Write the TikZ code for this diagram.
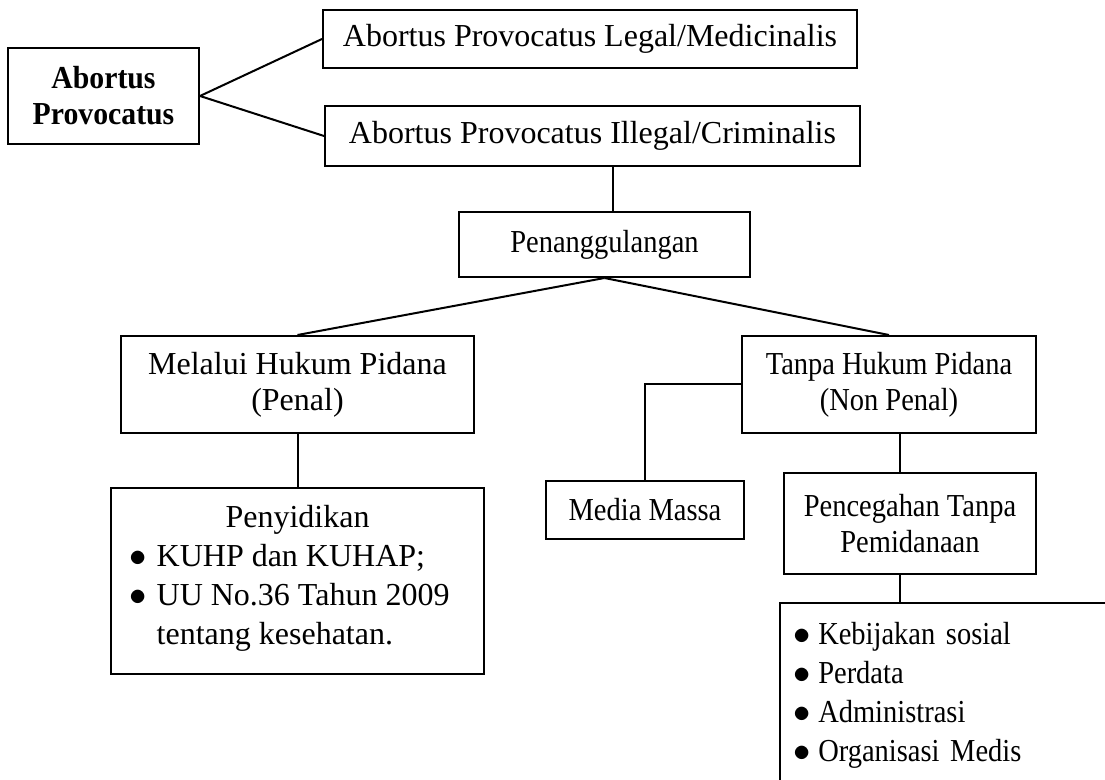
\documentclass[tikz,border=0pt]{standalone}
\usepackage{fontspec}
\setmainfont{Liberation Serif}
\newfontfamily\sempit[FakeStretch=0.89]{Liberation Serif}
\newfontfamily\judul[FakeStretch=0.93]{Liberation Serif}
\usepackage{tikz}
\usetikzlibrary{positioning}

\begin{document}
\begin{tikzpicture}[x=0.5pt,y=-0.5pt,line width=1pt,
    box/.style={rectangle,draw,inner sep=2pt,align=center,font=\fontsize{16}{18}\selectfont},
    smallbox/.style={box,font=\sempit\fontsize{16}{18}\selectfont}] % one pixel of the page is half a point
                \useasboundingbox (0,0) rectangle (1105,780);
                \clip (0,0) rectangle (1105,780);
                % Define the boxes at the places they have on the page
                \node[box,minimum width=95.5pt,minimum height=48pt,font=\judul\fontsize{16}{18}\selectfont\bfseries] (ap) at (103.5,96) {Abortus\\Provocatus};
                \node[box,minimum width=267pt,minimum height=29pt] (legal) at (590,39) {Abortus Provocatus Legal/Medicinalis};
                \node[box,minimum width=267.5pt,minimum height=30pt] (illegal) at (592.5,136) {Abortus Provocatus Illegal/Criminalis};
                \node[smallbox,minimum width=145.5pt,minimum height=32.5pt] (pen) at (604.5,244.5) {Penanggulangan};
                \node[box,minimum width=176.5pt,minimum height=48.5pt] (penal) at (297.5,384.5) {Melalui Hukum Pidana\\(Penal)};
                \node[smallbox,minimum width=147pt,minimum height=48.5pt] (nonpenal) at (889,384.5) {Tanpa Hukum Pidana\\(Non Penal)};
                \node[box,minimum width=186.5pt,minimum height=93pt,font=\fontsize{16}{19.5}\selectfont] (sidik) at (297.5,581) {Penyidikan\\
                    \hspace*{-8pt}\begin{tabular}[t]{@{}l@{\hspace{5pt}}l@{}}
                        $\bullet$ & KUHP dan KUHAP;\\
                        $\bullet$ & UU No.36 Tahun 2009\\
                                  & tentang kesehatan.
                    \end{tabular}};
                \node[smallbox,minimum width=99pt,minimum height=29pt] (media) at (645,510) {Media Massa};
                \node[smallbox,minimum width=126pt,minimum height=50.5pt] (cegah) at (910,523.5) {Pencegahan Tanpa\\Pemidanaan};
                \node[smallbox,anchor=north west,align=left,text width=163pt,inner xsep=6.5pt,inner ysep=7pt,font=\sempit\fontsize{16}{19.5}\selectfont] (daftar) at (779,602) {%
                    \begin{tabular}{@{}l@{\hspace{4pt}}l@{}}
                        $\bullet$ & Kebijakan sosial\\
                        $\bullet$ & Perdata\\
                        $\bullet$ & Administrasi\\
                        $\bullet$ & Organisasi Medis\\[12pt]
                    \end{tabular}};
                % Connect the boxes
                \draw (ap.east) -- (legal.west);
                \draw (ap.east) -- (illegal.west);
                \draw ([xshift=4pt]pen.north) -- ([xshift=4pt]pen.north |- illegal.south);
                \draw (pen.south) -- (penal.north);
                \draw (pen.south) -- (nonpenal.north);
                \draw (penal.south) -- (sidik.north);
                \draw (nonpenal.west) -| (media.north);
                \draw ([xshift=5.5pt]nonpenal.south) -- ([xshift=5.5pt]nonpenal.south |- cegah.north);
                \draw ([xshift=-5pt]cegah.south) -- ([xshift=-5pt]cegah.south |- daftar.north);
            \end{tikzpicture}
\end{document}
